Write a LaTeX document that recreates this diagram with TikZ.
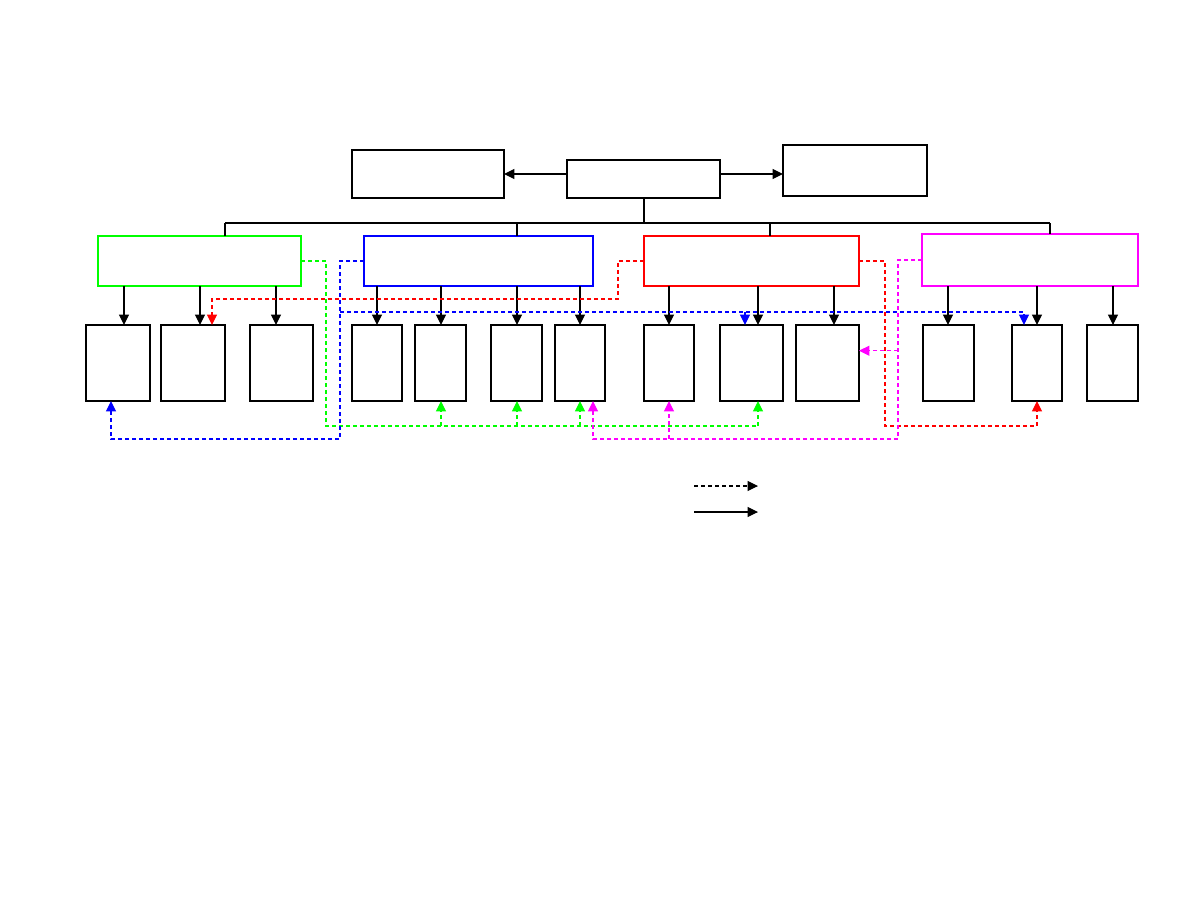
\documentclass[tikz,border=0pt]{standalone}
\usetikzlibrary{arrows.meta}
\definecolor{cgreen}{RGB}{0,255,0}
\definecolor{cblue}{RGB}{0,0,255}
\definecolor{cred}{RGB}{255,0,0}
\definecolor{cmag}{RGB}{255,0,255}
\newcommand\rbox[6]{\node[bx,#6,minimum width={(#4-#2)*0.5pt},minimum height={(#5-#3)*0.5pt}] (#1) at ({(#2+#4)/2},{(#3+#5)/2}) {};}
\begin{document}
\begin{tikzpicture}[x=0.5pt,y=-0.5pt,
  bx/.style={draw, line width=0.6pt, inner sep=0pt, outer sep=0pt},
  arr/.style={-{Triangle[length=5.2pt,width=5pt]}, line width=0.6pt},
  dsh/.style={dash pattern=on 2pt off 1.5pt, line width=0.6pt},
  thb/.style={line width=1.1pt},
  ln/.style={line width=0.6pt}]
\fill[white] (0,0) rectangle (1188,918);
\useasboundingbox (0,0) rectangle (1188,918);
% top boxes
\rbox{tl}{352}{150}{504}{198}{}
\rbox{tc}{567}{160}{720}{198}{}
\rbox{tr}{783}{145}{927}{196}{}
% group boxes
\rbox{G}{98}{236}{301}{286}{draw=cgreen}
\rbox{B}{364}{236}{593}{286}{draw=cblue}
\rbox{R}{644}{236}{859}{286}{draw=cred}
\rbox{M}{922}{234}{1138}{286}{draw=cmag}
% children
\rbox{g1}{86}{325}{150}{401}{}
\rbox{g2}{161}{325}{225}{401}{}
\rbox{g3}{250}{325}{313}{401}{}
\rbox{b1}{352}{325}{402}{401}{}
\rbox{b2}{415}{325}{466}{401}{}
\rbox{b3}{491}{325}{542}{401}{}
\rbox{b4}{555}{325}{605}{401}{}
\rbox{r1}{644}{325}{694}{401}{}
\rbox{r2}{720}{325}{783}{401}{}
\rbox{r3}{796}{325}{859}{401}{}
\rbox{m1}{923}{325}{974}{401}{}
\rbox{m2}{1012}{325}{1062}{401}{}
\rbox{m3}{1087}{325}{1138}{401}{}
\foreach \n in {tl,tc,g1,g2,g3,b1,b2,b3,b4,r1,r2,r3,m1,m2,m3}
  \draw[thb] (\n.south west) -- (\n.south east);
\draw[thb] (tc.north east) -- (tc.south east);
% top arrows
\draw[arr] (tc.west |- tl.east) -- (tl.east);
\draw[arr] (tc.east |- tl.east) -- (tr.west |- tl.east);
% bus
\coordinate (bus) at (644,223);
\coordinate (bL) at (225,223);
\coordinate (bR) at (1050,223);
\coordinate (bB) at (516.7,223);
\coordinate (bRr) at (770,223);
\draw[ln] (bus |- tc.south) -- (bus);
\draw[ln] (bL) -- (bR);
\draw[ln] (bL) -- (bL |- G.north);
\draw[line width=1pt] (bB) -- (bB |- B.north);
\draw[ln] (bRr) -- (bRr |- R.north);
\draw[ln] (bR) -- (bR |- M.north);
% parent -> child arrows
\foreach \p/\c/\x in {G/g1/124, G/g2/200, G/g3/276, B/b1/377, B/b2/441, B/b3/517, B/b4/580, R/r1/669, R/r2/758, R/r3/834, M/m1/948, M/m2/1037, M/m3/1113} {
  \coordinate (k) at (\x,0);
  \draw[arr] (k |- \p.south) -- (k |- \c.north);
}
% green
\coordinate (gv) at (326,426);
\coordinate (ge) at (758,426);
\draw[dsh,cgreen] (G.east) -| (gv) -- (ge);
\foreach \c/\x in {b2/441,b3/517,b4/580,r2/758} {
  \coordinate (k) at (\x,426);
  \draw[dsh,arr,cgreen] (k) -- (k |- \c.south);
}
% blue
\coordinate (bv) at (340,439);
\coordinate (bv2) at (340,312);
\coordinate (ba) at (111,439);
\draw[dsh,arr,cblue] (B.west) -| (bv) -- (ba) -- (ba |- g1.south);
\coordinate (bh) at (1024,312);
\coordinate (bh2) at (745,312);
\draw[dsh,arr,cblue] (bv2) -- (bh) -- (bh |- m2.north);
\draw[dsh,arr,cblue] (bh2) -- (bh2 |- r2.north);
% red
\coordinate (rv) at (618,299);
\coordinate (ra) at (212,299);
\draw[dsh,arr,cred] (R.west) -| (rv) -- (ra) -- (ra |- g2.north);
\coordinate (rv2) at (885,426);
\coordinate (rb) at (1037,426);
\draw[dsh,arr,cred] (R.east) -| (rv2) -- (rb) -- (rb |- m2.south);
% magenta
\coordinate (mv) at (898,439);
\coordinate (ma) at (593,439);
\draw[dsh,arr,cmag] (M.west) -| (mv) -- (ma) -- (ma |- b4.south);
\coordinate (mc) at (898,350.7);
\draw[dsh,arr,cmag] (mc) -- (mc -| r3.east);
\coordinate (md) at (669,439);
\draw[dsh,arr,cmag] (md) -- (md |- r1.south);
% legend
\coordinate (l1a) at (694,486);
\coordinate (l1b) at (758,486);
\coordinate (l2a) at (694,512);
\coordinate (l2b) at (758,512);
\draw[dsh,arr] (l1a) -- (l1b);
\draw[arr] (l2a) -- (l2b);
\end{tikzpicture}
\end{document}
